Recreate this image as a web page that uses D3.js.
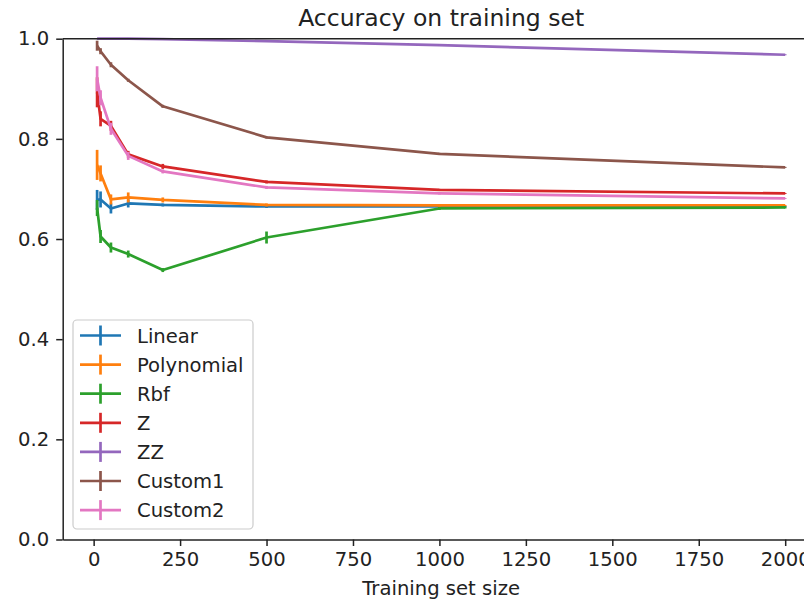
<!DOCTYPE html>
<html>
<head>
<meta charset="utf-8">
<script src="https://cdn.jsdelivr.net/npm/d3@7"></script>
<style>
  body { margin: 0; background: #fff; }
  text { font-family: "DejaVu Sans", sans-serif; fill: #222; }
</style>
</head>
<body>
<div id="chart"></div>
<script>
// training set sizes
var sizes = [10, 20, 50, 100, 200, 500, 1000, 2000];

// mean accuracy per kernel
var linear     = [0.678, 0.679, 0.661, 0.671, 0.668, 0.665, 0.665, 0.665];
var polynomial = [0.748, 0.731, 0.679, 0.683, 0.678, 0.668, 0.667, 0.667];
var rbf        = [0.662, 0.605, 0.583, 0.570, 0.538, 0.603, 0.661, 0.663];
var z          = [0.893, 0.840, 0.826, 0.769, 0.745, 0.714, 0.698, 0.691];
var zz         = [1.000, 1.000, 1.000, 1.000, 0.999, 0.995, 0.987, 0.968];
var custom1    = [0.986, 0.975, 0.948, 0.917, 0.865, 0.803, 0.770, 0.743];
var custom2    = [0.920, 0.882, 0.820, 0.766, 0.735, 0.703, 0.691, 0.681];

// standard deviation (error bars)
var linearErr     = [0.020, 0.016, 0.010, 0.008, 0.003, 0.003, 0.002, 0.001];
var polynomialErr = [0.030, 0.016, 0.010, 0.010, 0.005, 0.003, 0.002, 0.001];
var rbfErr        = [0.016, 0.013, 0.010, 0.007, 0.004, 0.012, 0.003, 0.002];
var zErr          = [0.030, 0.015, 0.010, 0.007, 0.005, 0.003, 0.002, 0.001];
var zzErr         = [0.001, 0.001, 0.001, 0.001, 0.001, 0.001, 0.001, 0.001];
var custom1Err    = [0.010, 0.006, 0.005, 0.003, 0.003, 0.002, 0.002, 0.001];
var custom2Err    = [0.025, 0.015, 0.012, 0.008, 0.004, 0.003, 0.002, 0.001];

var seriesNames = ["Linear", "Polynomial", "Rbf", "Z", "ZZ", "Custom1", "Custom2"];
var seriesMeans = [linear, polynomial, rbf, z, zz, custom1, custom2];
var seriesErrs  = [linearErr, polynomialErr, rbfErr, zErr, zzErr, custom1Err, custom2Err];
var colors = ["#1f77b4", "#ff7f0e", "#2ca02c", "#d62728", "#9467bd", "#8c564b", "#e377c2"];

var xTicks = [0, 250, 500, 750, 1000, 1250, 1500, 1750, 2000];
var yTicks = [0.0, 0.2, 0.4, 0.6, 0.8, 1.0];

function init() {
    var svgWidth = 804;
    var svgHeight = 601;
    var left = 62.7, right = 819.6, top = 38.7, bottom = 539.5;
    var fontSize = 19.6;
    var lineW = 2.7;

    var xScale = d3.scaleLinear().domain([-89.5, 2099.5]).range([left, right]);
    var yScale = d3.scaleLinear().domain([0, 1]).range([bottom, top]);

    var svg = d3.select("#chart").append("svg")
        .attr("width", svgWidth)
        .attr("height", svgHeight);

    svg.append("rect")
        .attr("width", svgWidth)
        .attr("height", svgHeight)
        .attr("fill", "#fff");

    // lines + error bars, same order as plotted
    var line = d3.line().x(d => xScale(d.x)).y(d => yScale(d.y));
    seriesNames.forEach(function(name, i) {
        var pts = sizes.map((s, j) => ({ x: s, y: seriesMeans[i][j], e: seriesErrs[i][j] }));
        var g = svg.append("g").attr("class", "series");
        g.append("path")
            .datum(pts)
            .attr("d", line)
            .attr("fill", "none")
            .attr("stroke", colors[i])
            .attr("stroke-width", lineW)
            .attr("stroke-linejoin", "round");
        g.selectAll("line.err")
            .data(pts)
            .enter()
            .append("line")
            .attr("class", "err")
            .attr("x1", d => xScale(d.x))
            .attr("x2", d => xScale(d.x))
            .attr("y1", d => yScale(d.y - d.e))
            .attr("y2", d => yScale(d.y + d.e))
            .attr("stroke", colors[i])
            .attr("stroke-width", lineW);
    });

    // axes
    var xAxis = d3.axisBottom(xScale).tickValues(xTicks).tickFormat(d3.format("d"))
        .tickSize(6.5).tickPadding(6).tickSizeOuter(0);
    var gx = svg.append("g")
        .attr("transform", "translate(0," + bottom + ")")
        .call(xAxis);
    gx.select(".domain").attr("stroke", "#222").attr("stroke-width", 1.5);
    gx.selectAll(".tick line").attr("stroke", "#222").attr("stroke-width", 1.5);
    gx.selectAll(".tick text").attr("font-size", fontSize).attr("fill", "#222")
        .attr("font-family", "DejaVu Sans");

    var yAxis = d3.axisLeft(yScale).tickValues(yTicks).tickFormat(d3.format(".1f"))
        .tickSize(6.5).tickPadding(7).tickSizeOuter(0);
    var gy = svg.append("g")
        .attr("transform", "translate(" + left + ",0)")
        .call(yAxis);
    gy.select(".domain").attr("stroke", "#222").attr("stroke-width", 1.5);
    gy.selectAll(".tick line").attr("stroke", "#222").attr("stroke-width", 1.5);
    gy.selectAll(".tick text").attr("font-size", fontSize).attr("fill", "#222")
        .attr("font-family", "DejaVu Sans");

    // top spine
    svg.append("line")
        .attr("x1", left).attr("x2", svgWidth)
        .attr("y1", top).attr("y2", top)
        .attr("stroke", "#222").attr("stroke-width", 1.5);

    // title and x label
    svg.append("text")
        .attr("x", (left + right) / 2)
        .attr("y", 26)
        .attr("text-anchor", "middle")
        .attr("font-size", 23.5)
        .text("Accuracy on training set");

    svg.append("text")
        .attr("x", (left + right) / 2)
        .attr("y", 595)
        .attr("text-anchor", "middle")
        .attr("font-size", fontSize)
        .text("Training set size");

    // legend
    var legend = svg.append("g").attr("class", "legend");
    legend.append("rect")
        .attr("x", 73).attr("y", 320)
        .attr("width", 180).attr("height", 209)
        .attr("rx", 4).attr("ry", 4)
        .attr("fill", "#fff").attr("fill-opacity", 0.8)
        .attr("stroke", "#ccc").attr("stroke-width", 1.2);

    var item = legend.selectAll("g.item")
        .data(seriesNames)
        .enter()
        .append("g")
        .attr("class", "item")
        .attr("transform", (d, i) => "translate(0," + (335.5 + i * 29.1) + ")");

    item.append("line")
        .attr("x1", 80).attr("x2", 121)
        .attr("y1", 0).attr("y2", 0)
        .attr("stroke", (d, i) => colors[i])
        .attr("stroke-width", lineW);
    item.append("line")
        .attr("x1", 100.5).attr("x2", 100.5)
        .attr("y1", -10).attr("y2", 10)
        .attr("stroke", (d, i) => colors[i])
        .attr("stroke-width", lineW);
    item.append("text")
        .attr("x", 137)
        .attr("y", 0)
        .attr("dy", "0.36em")
        .attr("font-size", fontSize)
        .text(d => d);
}
window.onload = init;
</script>
</body>
</html>
